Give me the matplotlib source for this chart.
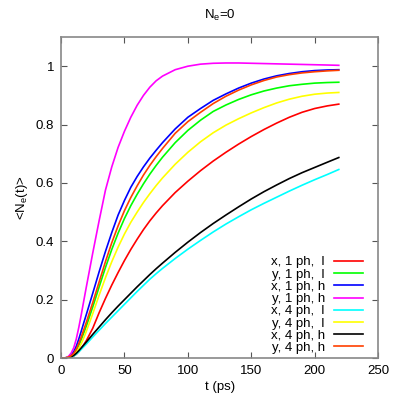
import matplotlib
matplotlib.use('Agg')
import matplotlib.pyplot as plt

plt.rcParams['font.family'] = ['Liberation Sans', 'DejaVu Sans']
plt.rcParams['mathtext.fontset'] = 'custom'
plt.rcParams['mathtext.rm'] = 'Liberation Sans'

# time axis (ps)
t = [0, 2, 4, 6, 8, 10, 12, 14, 16, 18, 20, 25, 30, 35, 40, 45, 50, 55, 60, 65, 70, 75,
     80, 90, 100, 110, 120, 130, 140, 150, 160, 170, 180, 190, 200, 210, 219]

x1l = [0, 0, 0, 0.001, 0.003, 0.007, 0.013, 0.022, 0.033, 0.046, 0.06, 0.102, 0.155, 0.204,
       0.25, 0.293, 0.334, 0.372, 0.407, 0.44, 0.47, 0.497, 0.522, 0.567, 0.606, 0.642,
       0.675, 0.705, 0.733, 0.759, 0.783, 0.805, 0.825, 0.842, 0.855, 0.864, 0.87]
y1l = [0, 0, 0.001, 0.003, 0.007, 0.014, 0.026, 0.043, 0.064, 0.087, 0.11, 0.175, 0.243,
       0.31, 0.372, 0.428, 0.478, 0.522, 0.561, 0.597, 0.63, 0.66, 0.688, 0.738, 0.78,
       0.815, 0.845, 0.867, 0.886, 0.902, 0.915, 0.925, 0.933, 0.938, 0.942, 0.944, 0.945]
x1h = [0, 0, 0.001, 0.004, 0.011, 0.022, 0.04, 0.065, 0.093, 0.122, 0.15, 0.222, 0.295,
       0.365, 0.43, 0.49, 0.54, 0.585, 0.622, 0.655, 0.685, 0.712, 0.738, 0.785, 0.825,
       0.855, 0.883, 0.905, 0.925, 0.942, 0.956, 0.967, 0.975, 0.981, 0.985, 0.987, 0.988]
y1h = [0, 0, 0.001, 0.006, 0.017, 0.035, 0.065, 0.105, 0.15, 0.198, 0.245, 0.36, 0.47,
       0.575, 0.655, 0.722, 0.777, 0.825, 0.866, 0.9, 0.928, 0.95, 0.966, 0.988, 1.0,
       1.007, 1.01, 1.011, 1.011, 1.01, 1.009, 1.008, 1.007, 1.006, 1.005, 1.004, 1.003]
x4l = [0, 0, 0, 0.001, 0.003, 0.007, 0.013, 0.021, 0.03, 0.039, 0.048, 0.072, 0.095,
       0.118, 0.14, 0.162, 0.184, 0.206, 0.228, 0.249, 0.27, 0.289, 0.307, 0.341, 0.373,
       0.403, 0.432, 0.459, 0.484, 0.508, 0.53, 0.551, 0.572, 0.592, 0.611, 0.629, 0.646]
y4l = [0, 0, 0.0005, 0.002, 0.005, 0.011, 0.02, 0.033, 0.05, 0.07, 0.092, 0.152, 0.215,
       0.275, 0.33, 0.38, 0.425, 0.465, 0.5, 0.533, 0.563, 0.591, 0.617, 0.664, 0.705,
       0.741, 0.772, 0.798, 0.82, 0.84, 0.858, 0.874, 0.887, 0.897, 0.904, 0.908, 0.91]
x4h = [0, 0, 0, 0.001, 0.004, 0.009, 0.016, 0.025, 0.035, 0.045, 0.055, 0.081, 0.106,
       0.131, 0.155, 0.178, 0.2, 0.222, 0.244, 0.265, 0.286, 0.306, 0.325, 0.362, 0.397,
       0.43, 0.461, 0.49, 0.518, 0.545, 0.57, 0.593, 0.615, 0.635, 0.653, 0.671, 0.687]
y4h = [0, 0, 0.001, 0.003, 0.008, 0.016, 0.03, 0.05, 0.073, 0.098, 0.123, 0.19, 0.26,
       0.33, 0.395, 0.453, 0.505, 0.55, 0.59, 0.627, 0.66, 0.69, 0.718, 0.77, 0.81,
       0.842, 0.872, 0.897, 0.918, 0.936, 0.951, 0.963, 0.971, 0.977, 0.981, 0.984, 0.986]

series = [x1l, y1l, x1h, y1h, x4l, y4l, x4h, y4h]
labels = ['x, 1 ph,  l', 'y, 1 ph,  l', 'x, 1 ph, h', 'y, 1 ph, h',
          'x, 4 ph,  l', 'y, 4 ph,  l', 'x, 4 ph, h', 'y, 4 ph, h']
colors = ['#ff0000', '#00ff00', '#0000ff', '#ff00ff',
          '#00ffff', '#ffff00', '#000000', '#ff4000']

fig = plt.figure(figsize=(4.07, 3.98), dpi=100)
ax = fig.add_axes([0.150, 0.1005, 0.779, 0.8065])

for s, lab, c in zip(series, labels, colors):
    ax.plot(t, s, color=c, lw=1.2, label=lab)

ax.set_xlim(0, 250)
ax.set_ylim(0, 1.1)
ax.set_xticks(range(0, 251, 50))
ax.set_yticks([0, 0.2, 0.4, 0.6, 0.8, 1])
ax.set_yticklabels(['0', '0.2', '0.4', '0.6', '0.8', '1'])
ax.tick_params(direction='in', top=True, right=True, labelsize=9.5, length=4,
               width=0.8, color='#555555', pad=5)
for sp in ax.spines.values():
    sp.set_color('#888888')
    sp.set_linewidth(1.2)

ax.set_xlabel('t (ps)', fontsize=9.5, labelpad=3)
ax.set_ylabel(r'<N$_\mathregular{e}$(t)>', fontsize=9.5, labelpad=4)
ax.set_title(r'N$_\mathregular{e}$=0', fontsize=9.5, pad=13)

ax.legend(loc='lower right', markerfirst=False, frameon=False, fontsize=9.5,
          handlelength=2.2, handletextpad=0.7, labelspacing=0.0,
          borderaxespad=0.0, bbox_to_anchor=(0.905, 0.097),
          bbox_transform=fig.transFigure)

plt.savefig('out.png', dpi=100)
